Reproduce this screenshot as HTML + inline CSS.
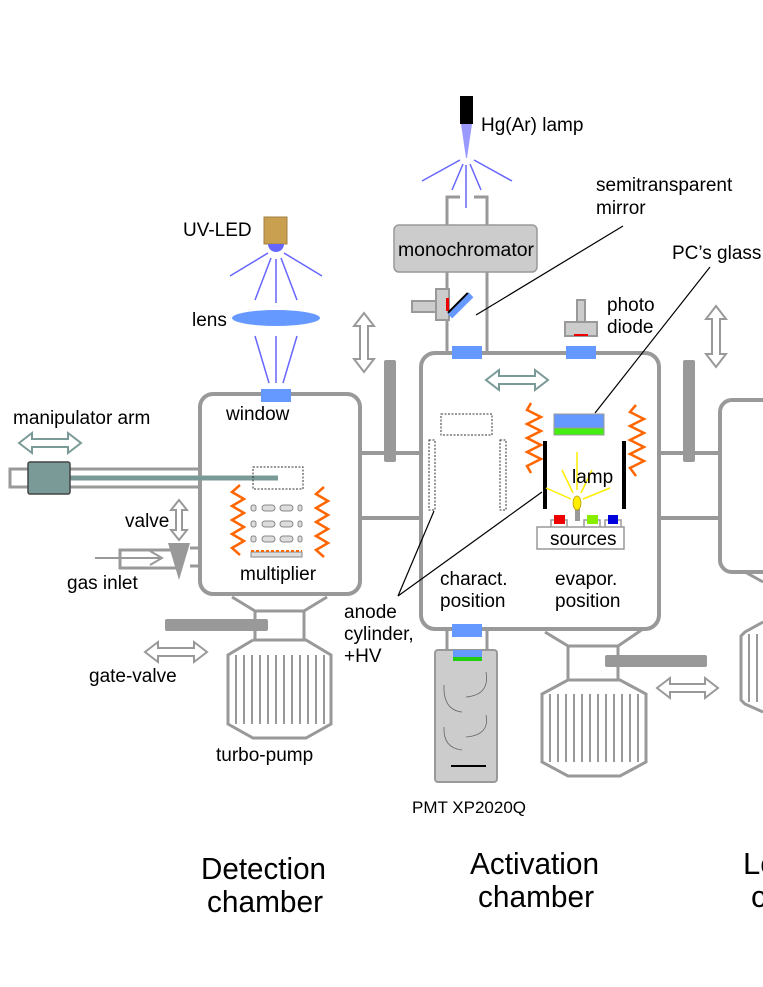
<!DOCTYPE html>
<html><head><meta charset="utf-8"><style>
html,body{margin:0;padding:0;background:#fff;width:763px;height:987px;overflow:hidden}
text{font-family:"Liberation Sans",sans-serif;fill:#000}
</style></head><body>
<svg width="763" height="987" viewBox="0 0 763 987" xmlns="http://www.w3.org/2000/svg">
<g fill="none" stroke="#999" stroke-width="4">
 <rect x="200" y="394" width="160" height="200" rx="13"/>
 <rect x="421" y="353" width="238" height="276" rx="14"/>
 <rect x="720" y="400" width="80" height="172" rx="12"/>
 <line x1="360" y1="453" x2="421" y2="453"/><line x1="360" y1="518" x2="421" y2="518"/>
 <line x1="659" y1="453" x2="720" y2="453"/><line x1="659" y1="518" x2="720" y2="518"/>
</g>
<g fill="none" stroke="#999" stroke-width="3">
 <polyline points="447,225 447,197 460,197"/><polyline points="474,197 487,197 487,225"/>
 <line x1="447" y1="272" x2="447" y2="352"/><line x1="487" y1="272" x2="487" y2="352"/>
 <line x1="447" y1="630" x2="447" y2="650"/><line x1="487" y1="630" x2="487" y2="650"/>
 <polyline points="200,469 10,469 10,487 200,487"/>
 <polyline points="200,548 190,548"/><polyline points="200,566 190,566"/>
 <polyline points="180,550 120,550 120,568 180,568"/>
 <polyline points="232,597 255,611 255,640"/><polyline points="327,597 304,611 304,640"/>
 <line x1="255" y1="611" x2="304" y2="611"/>
 <polyline points="253,640 228,655 228,724 253,738 306,738 331,724 331,655 306,640 253,640"/>
 <polyline points="545,632 568,646 568,680"/><polyline points="643,629 618,646 618,680"/>
 <line x1="568" y1="646" x2="618" y2="646"/>
 <polyline points="568,680 542,694 542,762 568,776 620,776 646,762 646,694 620,680 568,680"/>
 <polyline points="745,572 763,582"/>
 <polyline points="763,622 745,632 741,636 741,700 745,704 763,712"/>
</g>
<g stroke="#999" stroke-width="2">
 <line x1="236" y1="655" x2="236" y2="724"/><line x1="244" y1="655" x2="244" y2="724"/><line x1="252" y1="655" x2="252" y2="724"/><line x1="260" y1="655" x2="260" y2="724"/><line x1="268" y1="655" x2="268" y2="724"/><line x1="276" y1="655" x2="276" y2="724"/><line x1="284" y1="655" x2="284" y2="724"/><line x1="292" y1="655" x2="292" y2="724"/><line x1="300" y1="655" x2="300" y2="724"/><line x1="308" y1="655" x2="308" y2="724"/><line x1="316" y1="655" x2="316" y2="724"/><line x1="324" y1="655" x2="324" y2="724"/>
 <line x1="550" y1="694" x2="550" y2="762"/><line x1="558" y1="694" x2="558" y2="762"/><line x1="566" y1="694" x2="566" y2="762"/><line x1="574" y1="694" x2="574" y2="762"/><line x1="582" y1="694" x2="582" y2="762"/><line x1="590" y1="694" x2="590" y2="762"/><line x1="598" y1="694" x2="598" y2="762"/><line x1="606" y1="694" x2="606" y2="762"/><line x1="614" y1="694" x2="614" y2="762"/><line x1="622" y1="694" x2="622" y2="762"/><line x1="630" y1="694" x2="630" y2="762"/><line x1="638" y1="694" x2="638" y2="762"/>
 <line x1="749" y1="634" x2="749" y2="702"/><line x1="757" y1="634" x2="757" y2="702"/>
</g>
<g fill="#999">
 <rect x="384" y="360" width="12" height="102" rx="2"/>
 <rect x="683" y="360" width="12" height="102" rx="2"/>
 <rect x="165" y="619" width="103" height="12" rx="2"/>
 <rect x="605" y="655" width="102" height="12" rx="2"/>
 <polygon points="168,543 190,543 179,580"/>
</g>
<g fill="#6699ff">
 <rect x="261" y="389" width="30" height="13"/>
 <rect x="452" y="346" width="30" height="13"/>
 <rect x="566" y="346" width="30" height="13"/>
 <rect x="452" y="624" width="30" height="13"/>
</g>
<rect x="394" y="225" width="143" height="47" rx="5" fill="#ccc" stroke="#999" stroke-width="1.5"/>
<text x="466" y="256" font-size="19" text-anchor="middle" textLength="136" lengthAdjust="spacingAndGlyphs">monochromator</text>
<rect x="460" y="96" width="13" height="28" fill="#000"/>
<path d="M461,124 L472,124 L467,158 L466,158 Z" fill="#9999ff"/>
<g stroke="#6666ff" stroke-width="1.5">
 <line x1="460" y1="160" x2="422" y2="181"/><line x1="463" y1="164" x2="452" y2="190"/><line x1="466" y1="165" x2="466" y2="208"/><line x1="470" y1="164" x2="481" y2="190"/><line x1="474" y1="160" x2="512" y2="181"/>
</g>
<rect x="264" y="217" width="23" height="27" fill="#c8a050" stroke="#a08040"/>
<path d="M268,244 A8,8 0 0 0 284,244 Z" fill="#6666ff"/>
<g stroke="#6666ff" stroke-width="1.5">
 <line x1="268" y1="253" x2="230" y2="276"/><line x1="271" y1="258" x2="255" y2="300"/><line x1="276" y1="259" x2="276" y2="303"/><line x1="281" y1="258" x2="297" y2="300"/><line x1="284" y1="253" x2="322" y2="276"/>
 <line x1="255" y1="336" x2="269" y2="383"/><line x1="276" y1="336" x2="276" y2="383"/><line x1="297" y1="336" x2="283" y2="383"/>
</g>
<ellipse cx="276" cy="318" rx="44" ry="8" fill="#6699ff"/>
<rect x="412" y="301" width="25" height="11" fill="#ccc" stroke="#999" stroke-width="2"/>
<rect x="436" y="289" width="13" height="31" fill="#ccc" stroke="#999" stroke-width="2"/>
<rect x="446" y="298" width="3" height="13" fill="#e00"/>
<g transform="rotate(-45 460 305)"><rect x="445" y="302" width="30" height="7" fill="#6699ff"/><line x1="446" y1="302" x2="474" y2="302" stroke="#000" stroke-width="2"/></g>
<rect x="577" y="300" width="8" height="22" fill="#ccc" stroke="#999" stroke-width="2"/>
<rect x="565" y="322" width="32" height="14" fill="#ccc" stroke="#999" stroke-width="2"/>
<rect x="574" y="334" width="14" height="2" fill="#e00"/>
<line x1="70" y1="478" x2="278" y2="478" stroke="#7a9a98" stroke-width="5"/>
<rect x="28" y="462" width="42" height="32" rx="2" fill="#7a9a98" stroke="#444" stroke-width="1.5"/>
<g fill="#fff" stroke="#7a9a98" stroke-width="2">
 <polygon points="19,443 32,433 32,439 68,439 68,433 81,443 68,453 68,447 32,447 32,453"/>
 <polygon points="486,380 499,370 499,376 535,376 535,370 548,380 535,390 535,384 499,384 499,390"/>
</g>
<g fill="#fff" stroke="#999" stroke-width="2">
 <polygon points="145,652 158,642 158,648 194,648 194,642 207,652 194,662 194,656 158,656 158,662"/>
 <polygon points="657,688 670,678 670,684 705,684 705,678 718,688 705,698 705,692 670,692 670,698"/>
 <polygon points="364,313 374,326 368,326 368,359 374,359 364,372 354,359 360,359 360,326 354,326"/>
 <polygon points="716,306 726,319 720,319 720,354 726,354 716,367 706,354 712,354 712,319 706,319"/>
 <polygon points="179,500 187,510 182,510 182,530 187,530 179,540 171,530 176,530 176,510 171,510"/>
 <polyline points="95,558 160,558" fill="none"/><polyline points="150,551 162,558 150,565" fill="none"/>
</g>
<g fill="none" stroke="#333" stroke-width="1" stroke-dasharray="2,1.5">
 <rect x="253" y="467" width="50" height="22"/>
 <rect x="441" y="414" width="51" height="21"/>
 <rect x="429" y="440" width="6" height="70"/>
 <rect x="500" y="440" width="6" height="70"/>
</g>
<g fill="none" stroke="#ff6600" stroke-width="2.5">
 <polyline points="240,485 232,492 244,499 232,506 244,513 232,520 244,527 232,534 244,541 232,548 240,555"/>
 <polyline points="324,487 316,494 328,501 316,508 328,515 316,522 328,529 316,536 328,543 316,550 324,557"/>
 <polyline points="531,403 527,410 541,417 527,424 541,431 527,438 541,445 527,452 541,459 527,466 531,473"/>
 <polyline points="636,405 630,412 644,419 630,426 644,433 630,440 644,447 630,454 644,461 630,468 636,476"/>
</g>
<g fill="#ddd" stroke="#888" stroke-width="1">
 <rect x="251" y="505" width="5" height="6" rx="2"/><rect x="262" y="505" width="13" height="6" rx="3"/><rect x="280" y="505" width="13" height="6" rx="3"/><rect x="298" y="505" width="4" height="6" rx="2"/>
 <rect x="251" y="521" width="5" height="6" rx="2"/><rect x="262" y="521" width="13" height="6" rx="3"/><rect x="280" y="521" width="13" height="6" rx="3"/><rect x="298" y="521" width="4" height="6" rx="2"/>
 <rect x="251" y="536" width="5" height="6" rx="2"/><rect x="262" y="536" width="13" height="6" rx="3"/><rect x="280" y="536" width="13" height="6" rx="3"/><rect x="298" y="536" width="4" height="6" rx="2"/>
 <rect x="251" y="552" width="51" height="5"/>
</g>
<line x1="251" y1="551" x2="302" y2="551" stroke="#ff6600" stroke-width="2" stroke-dasharray="3,2"/>
<rect x="554" y="414" width="50" height="14" fill="#6699ff" stroke="#999" stroke-width="1"/>
<rect x="554" y="428" width="50" height="7" fill="#44ee11" stroke="#999" stroke-width="1"/>
<rect x="543" y="441" width="4" height="68" fill="#000"/>
<rect x="622" y="441" width="4" height="68" fill="#000"/>
<g stroke="#ffee00" stroke-width="1.5">
 <line x1="577" y1="452" x2="577" y2="490"/><line x1="562" y1="470" x2="573" y2="493"/><line x1="592" y1="470" x2="581" y2="493"/><line x1="546" y1="488" x2="571" y2="499"/><line x1="610" y1="488" x2="583" y2="499"/>
</g>
<rect x="575" y="508" width="5" height="13" fill="#999"/>
<ellipse cx="577" cy="503" rx="4" ry="7" fill="#ffee00" stroke="#bb9900" stroke-width="0.8"/>
<g fill="none" stroke="#999" stroke-width="1.5">
 <rect x="537" y="527" width="87" height="22"/>
 <polyline points="551,527 551,520 567,520 567,527"/><polyline points="584,527 584,520 600,520 600,527"/><polyline points="605,527 605,520 621,520 621,527"/>
</g>
<rect x="554" y="515" width="11" height="9" fill="#e00"/><rect x="587" y="515" width="11" height="9" fill="#88ee00"/><rect x="608" y="515" width="10" height="9" fill="#0000dd"/>
<rect x="435" y="650" width="62" height="132" rx="3" fill="#ccc" stroke="#999" stroke-width="2"/>
<rect x="453" y="650" width="29" height="7" fill="#6699ff"/><rect x="453" y="657" width="29" height="4" fill="#22cc11"/>
<g fill="none" stroke="#666" stroke-width="0.8">
 <path d="M444,685 Q443,710 462,712"/><path d="M486,672 Q490,695 466,697"/><path d="M444,727 Q443,748 462,750"/><path d="M486,715 Q490,735 466,737"/>
</g>
<line x1="451" y1="766" x2="486" y2="766" stroke="#000" stroke-width="2"/>
<g stroke="#000" stroke-width="1.2">
 <line x1="476" y1="315" x2="623" y2="226"/>
 <line x1="595" y1="413" x2="710" y2="267"/>
 <line x1="398" y1="596" x2="434" y2="511"/>
 <line x1="398" y1="596" x2="542" y2="492"/>
</g>
<g font-size="19">
 <text x="481" y="131">Hg(Ar) lamp</text>
 <text x="596" y="191">semitransparent</text><text x="596" y="214">mirror</text>
 <text x="672" y="259">PC’s glass</text>
 <text x="183" y="236">UV-LED</text>
 <text x="192" y="326">lens</text>
 <text x="607" y="311">photo</text><text x="607" y="333">diode</text>
 <text x="226" y="420">window</text>
 <text x="13" y="424">manipulator arm</text>
 <text x="125" y="527">valve</text>
 <text x="67" y="589">gas inlet</text>
 <text x="240" y="580">multiplier</text>
 <text x="89" y="682">gate-valve</text>
 <text x="216" y="761">turbo-pump</text>
 <text x="344" y="618">anode</text><text x="344" y="640">cylinder,</text><text x="344" y="662">+HV</text>
 <text x="440" y="585">charact.</text><text x="440" y="607">position</text>
 <text x="555" y="585">evapor.</text><text x="555" y="607">position</text>
 <text x="572" y="483">lamp</text>
 <text x="550" y="545">sources</text>
</g>
<text x="412" y="813" font-size="17">PMT XP2020Q</text>
<g font-size="31">
 <text x="201" y="879" textLength="125" lengthAdjust="spacingAndGlyphs">Detection</text>
 <text x="207" y="912" textLength="116" lengthAdjust="spacingAndGlyphs">chamber</text>
 <text x="470" y="874" textLength="129" lengthAdjust="spacingAndGlyphs">Activation</text>
 <text x="478" y="907" textLength="116" lengthAdjust="spacingAndGlyphs">chamber</text>
 <text x="743" y="874">Lo</text><text x="751" y="907">c</text>
</g>
</svg>
</body></html>
